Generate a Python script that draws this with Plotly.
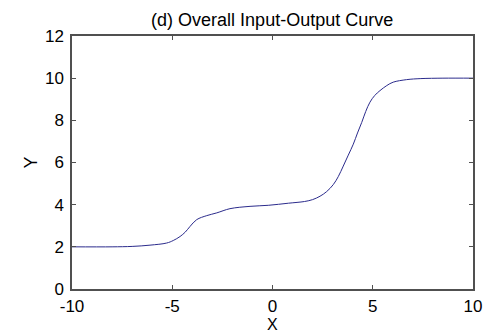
import plotly.graph_objects as go

x_vals = [-10, -8, -7, -6.11, -5.28, -4.95, -4.61, -4.35, -4.11, -3.78, -3.28, -2.78, -2.12, -1.12, -0.21, 0.8, 1.6, 2.0, 2.37, 2.7, 3.03, 3.28, 3.53, 3.78, 4.03, 4.24, 4.45, 4.65, 4.86, 5.1, 5.36, 5.7, 6.02, 6.69, 7.4, 8.5, 10]
y_vals = [2.0, 2.0, 2.02, 2.08, 2.18, 2.3, 2.49, 2.7, 2.97, 3.29, 3.48, 3.61, 3.81, 3.92, 3.97, 4.07, 4.15, 4.24, 4.4, 4.62, 4.95, 5.33, 5.83, 6.35, 6.87, 7.4, 7.9, 8.42, 8.86, 9.18, 9.41, 9.65, 9.81, 9.93, 9.98, 10.0, 10.0]
x_ticks = [-10, -5, 0, 5, 10]
x_tick_text = ["-10", "-5", "0", "5", "10"]
y_ticks = [0, 2, 4, 6, 8, 10, 12]
y_tick_text = ["0", "2", "4", "6", "8", "10", "12"]

FONT = "Liberation Sans, Arial"

fig = go.Figure()
fig.add_trace(go.Scatter(x=x_vals, y=y_vals, mode="lines",
                         line=dict(color="#2b2b8c", width=1, shape="spline", smoothing=1.0),
                         showlegend=False, hoverinfo="skip"))

axis_common = dict(showgrid=False, zeroline=False, showline=True, linecolor="#505050",
                   linewidth=1.5, mirror="ticks", ticks="inside", ticklen=4,
                   tickcolor="#505050", automargin=False,
                   tickfont=dict(family=FONT, size=17, color="#000"))

fig.update_layout(
    width=486, height=333,
    margin=dict(l=72, r=13, t=36, b=44),
    paper_bgcolor="white", plot_bgcolor="white",
    title=dict(text="(d) Overall Input-Output Curve", x=0.56, xanchor="center",
               y=0.94, yanchor="middle",
               font=dict(family=FONT, size=18, color="#000")),
    xaxis=dict(range=[-10, 10], tickvals=x_ticks, ticktext=x_tick_text, ticklabelstandoff=1, **axis_common),
    yaxis=dict(range=[0, 12], tickvals=y_ticks, ticktext=y_tick_text, ticklabelstandoff=3, **axis_common),
    annotations=[
        dict(text="X", xref="paper", yref="paper", x=0.5, y=0, yshift=-35,
             xanchor="center", yanchor="middle", showarrow=False,
             font=dict(family=FONT, size=16, color="#000")),
        dict(text="Y", xref="paper", yref="paper", x=0, y=0.5, xshift=-42,
             xanchor="center", yanchor="middle", textangle=-90, showarrow=False,
             font=dict(family=FONT, size=18, color="#000")),
    ],
)

fig.write_html("out.html")
